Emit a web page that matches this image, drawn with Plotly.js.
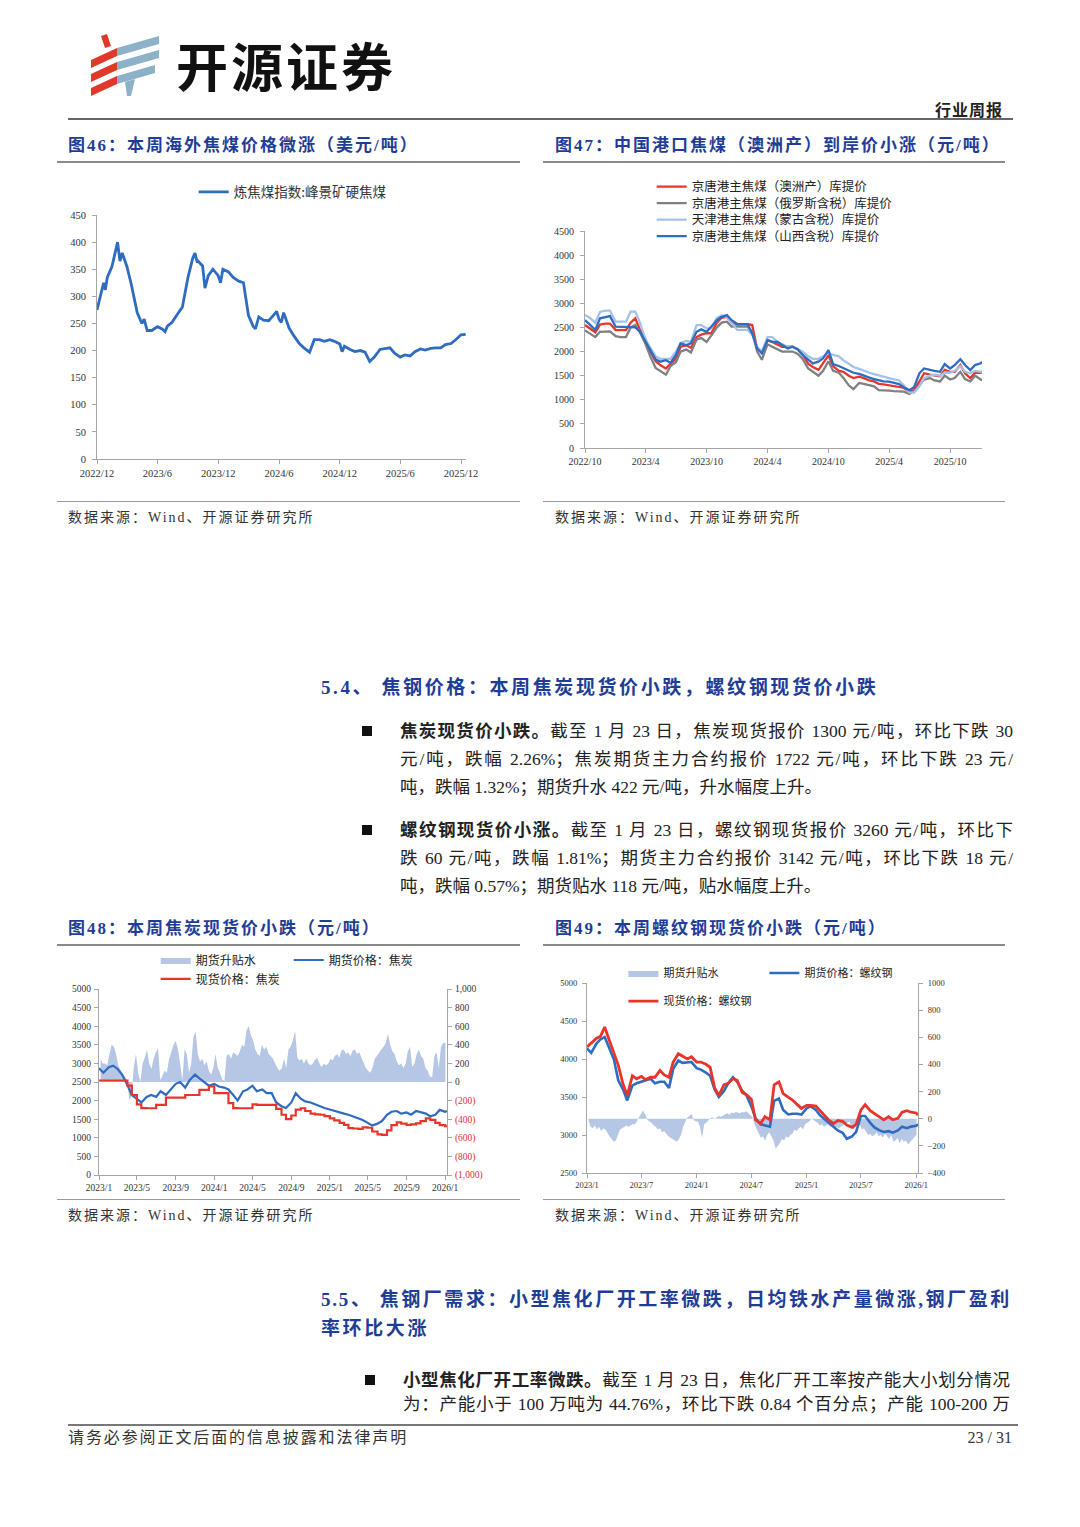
<!DOCTYPE html>
<html><head><meta charset="utf-8">
<script src="https://cdn.plot.ly/plotly-3.0.1.min.js"></script>
<style>
html,body{margin:0;padding:0;background:#fff;}
#page{position:relative;width:1080px;height:1527px;overflow:hidden;background:#fff;font-family:"Liberation Serif","Noto Sans CJK SC",serif;color:#222;}
.abs{position:absolute;white-space:nowrap;}
.rule{position:absolute;background:#8a8a8a;}
.figt{position:absolute;white-space:nowrap;font-family:"Liberation Serif","Noto Sans CJK SC",serif;font-weight:700;font-size:17px;color:#1f3d96;letter-spacing:2px;line-height:20px;}
.src{position:absolute;white-space:nowrap;font-size:14px;color:#333;letter-spacing:2px;line-height:18px;}
.ln{position:absolute;left:400px;width:613px;font-size:17.5px;line-height:22px;height:22px;text-align:justify;text-align-last:justify;color:#222;}
.ln.last{text-align:left;text-align-last:left;white-space:nowrap;}
.sq{position:absolute;width:10px;height:10px;background:#111;}
.h2{position:absolute;left:321px;font-weight:700;font-size:19px;letter-spacing:2.6px;color:#1f3d96;line-height:24px;height:24px;}
.chart{position:absolute;}
</style></head>
<body><div id="page">

<svg class="abs" style="left:85px;top:30px" width="80" height="72" viewBox="0 0 80 72">
 <polygon points="16,6 22,4 26,16 20,18" fill="#e0392b"/>
 <polygon points="6,30 32,18 32,26 6,38" fill="#e0392b"/>
 <polygon points="6,44 32,32 32,40 6,52" fill="#e0392b"/>
 <polygon points="6,58 32,46 32,54 6,66" fill="#e0392b"/>
 <polygon points="32,18 74,6 74,14 32,26" fill="#8db1c8"/>
 <polygon points="32,32 74,20 74,28 32,40" fill="#8db1c8"/>
 <polygon points="32,46 70,35 70,43 32,54" fill="#8db1c8"/>
 <polygon points="40,52 50,49 46,66 42,66" fill="#8db1c8"/>
</svg>
<div class="abs" style="left:176px;top:34px;font-family:'Noto Sans CJK SC';font-weight:700;font-size:52px;line-height:62px;letter-spacing:3px;color:#111;">开源证券</div>
<div class="abs" style="left:935px;top:99px;font-family:'Noto Sans CJK SC';font-weight:700;font-size:16px;line-height:20px;letter-spacing:1px;color:#222;">行业周报</div>
<div class="rule" style="left:68px;top:118px;width:945px;height:2px;background:#666;"></div>

<div class="figt" style="left:68px;top:136px;">图46：本周海外焦煤价格微涨（美元/吨）</div>
<div class="figt" style="left:555px;top:136px;">图47：中国港口焦煤（澳洲产）到岸价小涨（元/吨）</div>
<div class="rule" style="left:57px;top:161px;width:463px;height:1.5px;"></div>
<div class="rule" style="left:543px;top:161px;width:462px;height:1.5px;"></div>
<div id="c46" class="chart" style="left:57px;top:163px;width:463px;height:338px;"></div>
<div id="c47" class="chart" style="left:543px;top:163px;width:462px;height:338px;"></div>
<div class="rule" style="left:57px;top:501px;width:463px;height:1px;background:#999;"></div>
<div class="rule" style="left:543px;top:501px;width:462px;height:1px;background:#999;"></div>
<div class="src" style="left:68px;top:509px;">数据来源：Wind、开源证券研究所</div>
<div class="src" style="left:555px;top:509px;">数据来源：Wind、开源证券研究所</div>

<div class="h2" style="top:676px;white-space:nowrap;">5.4、 焦钢价格：本周焦炭现货价小跌，螺纹钢现货价小跌</div>

<div class="sq" style="left:362px;top:726px;"></div>
<div class="ln" style="top:720px;"><b>焦炭现货价小跌。</b>截至 1 月 23 日，焦炭现货报价 1300 元/吨，环比下跌 30</div>
<div class="ln" style="top:748px;">元/吨，跌幅 2.26%；焦炭期货主力合约报价 1722 元/吨，环比下跌 23 元/</div>
<div class="ln last" style="top:776px;">吨，跌幅 1.32%；期货升水 422 元/吨，升水幅度上升。</div>

<div class="sq" style="left:362px;top:825px;"></div>
<div class="ln" style="top:819px;"><b>螺纹钢现货价小涨。</b>截至 1 月 23 日，螺纹钢现货报价 3260 元/吨，环比下</div>
<div class="ln" style="top:847px;">跌 60 元/吨，跌幅 1.81%；期货主力合约报价 3142 元/吨，环比下跌 18 元/</div>
<div class="ln last" style="top:875px;">吨，跌幅 0.57%；期货贴水 118 元/吨，贴水幅度上升。</div>

<div class="figt" style="left:68px;top:919px;">图48：本周焦炭现货价小跌（元/吨）</div>
<div class="figt" style="left:555px;top:919px;">图49：本周螺纹钢现货价小跌（元/吨）</div>
<div class="rule" style="left:57px;top:944px;width:463px;height:1.5px;"></div>
<div class="rule" style="left:543px;top:944px;width:462px;height:1.5px;"></div>
<div id="c48" class="chart" style="left:57px;top:946px;width:463px;height:253px;"></div>
<div id="c49" class="chart" style="left:543px;top:946px;width:462px;height:253px;"></div>
<div class="rule" style="left:57px;top:1199px;width:463px;height:1px;background:#999;"></div>
<div class="rule" style="left:543px;top:1199px;width:462px;height:1px;background:#999;"></div>
<div class="src" style="left:68px;top:1207px;">数据来源：Wind、开源证券研究所</div>
<div class="src" style="left:555px;top:1207px;">数据来源：Wind、开源证券研究所</div>

<div class="h2" style="top:1288px;width:690px;letter-spacing:1.8px;text-align:justify;text-align-last:justify;">5.5、 焦钢厂需求：小型焦化厂开工率微跌，日均铁水产量微涨,钢厂盈利</div>
<div class="h2" style="top:1317px;white-space:nowrap;">率环比大涨</div>

<div class="sq" style="left:365px;top:1375px;"></div>
<div class="ln" style="left:403px;width:607px;top:1369px;"><b>小型焦化厂开工率微跌。</b>截至 1 月 23 日，焦化厂开工率按产能大小划分情况</div>
<div class="ln" style="left:403px;width:607px;top:1393px;">为：产能小于 100 万吨为 44.76%，环比下跌 0.84 个百分点；产能 100-200 万</div>

<div class="rule" style="left:68px;top:1424px;width:950px;height:2px;background:#777;"></div>
<div class="abs" style="left:68px;top:1429px;font-size:16px;line-height:18px;letter-spacing:1.9px;color:#333;">请务必参阅正文后面的信息披露和法律声明</div>
<div class="abs" style="right:68px;top:1429px;font-size:16px;line-height:18px;color:#333;">23 / 31</div>
</div>

<script>
// ---------- Figure 46 data ----------
const x46 = ['2022-12-01','2022-12-15','2022-12-21','2022-12-26','2023-01-01','2023-01-15','2023-02-01','2023-02-08','2023-02-15','2023-03-01','2023-03-15','2023-04-01','2023-04-15','2023-04-22','2023-05-01','2023-05-15','2023-06-01','2023-06-15','2023-06-24','2023-07-01','2023-07-15','2023-08-01','2023-08-15','2023-09-01','2023-09-15','2023-09-22','2023-09-29','2023-10-01','2023-10-15','2023-10-22','2023-11-01','2023-11-15','2023-12-01','2023-12-08','2023-12-15','2024-01-01','2024-01-15','2024-02-01','2024-02-15','2024-03-01','2024-03-15','2024-03-22','2024-04-01','2024-04-15','2024-05-01','2024-05-15','2024-05-25','2024-06-01','2024-06-08','2024-06-15','2024-07-01','2024-07-15','2024-08-01','2024-08-15','2024-09-01','2024-09-15','2024-10-01','2024-10-15','2024-11-01','2024-11-15','2024-12-01','2024-12-08','2024-12-15','2025-01-01','2025-01-15','2025-02-01','2025-02-15','2025-03-01','2025-03-15','2025-04-01','2025-04-15','2025-05-01','2025-05-15','2025-06-01','2025-06-15','2025-07-01','2025-07-15','2025-08-01','2025-08-15','2025-09-01','2025-09-15','2025-10-01','2025-10-15','2025-11-01','2025-11-15','2025-12-01','2025-12-15'];
const coking46 = [275,310,325,312,335,355,400,365,380,355,320,270,250,258,237,237,244,240,235,245,252,268,280,335,370,380,362,365,356,315,338,350,338,325,350,345,335,328,325,265,245,240,262,256,255,265,272,258,252,270,242,228,213,205,197,220,220,217,220,217,212,198,208,202,198,200,197,180,188,202,204,205,195,188,192,190,198,203,201,204,205,205,211,213,220,229,230];
const name46 = '炼焦煤指数:峰景矿硬焦煤';

// ---------- Figure 47 data ----------
const x47 = ['2022-10-01','2022-10-15','2022-11-01','2022-11-15','2022-12-01','2022-12-15',
'2023-01-01','2023-01-15','2023-02-01','2023-02-15','2023-03-01','2023-03-15','2023-04-01','2023-04-15','2023-05-01','2023-05-15','2023-06-01','2023-06-15','2023-07-01','2023-07-15','2023-08-01','2023-08-15','2023-09-01','2023-09-15','2023-10-01','2023-10-15','2023-11-01','2023-11-15','2023-12-01','2023-12-15',
'2024-01-01','2024-01-15','2024-02-01','2024-02-15','2024-03-01','2024-03-15','2024-04-01','2024-04-15','2024-05-01','2024-05-15','2024-06-01','2024-06-15','2024-07-01','2024-07-15','2024-08-01','2024-08-15','2024-09-01','2024-09-15','2024-10-01','2024-10-15','2024-11-01','2024-11-15','2024-12-01','2024-12-15',
'2025-01-01','2025-01-15','2025-02-01','2025-02-15','2025-03-01','2025-03-15','2025-04-01','2025-04-15','2025-05-01','2025-05-15','2025-06-01','2025-06-15','2025-07-01','2025-07-15','2025-08-01','2025-08-15','2025-09-01','2025-09-15','2025-10-01','2025-10-15','2025-11-01','2025-11-15','2025-12-01','2025-12-15',
'2026-01-01','2026-01-05'];
const aus47 = [2550,2480,2400,2560,2580,2580,
2445,2445,2445,2600,2690,2450,2250,2000,1800,1720,1650,1750,1850,2100,2130,2080,2300,2350,2380,2380,2600,2700,2720,2600,
2570,2570,2570,2550,2050,2000,2230,2200,2150,2100,2100,2100,2050,1950,1750,1680,1620,1750,1920,1700,1600,1580,1500,1450,
1480,1450,1400,1380,1330,1320,1300,1290,1280,1250,1160,1200,1380,1550,1520,1500,1490,1620,1580,1580,1720,1550,1450,1560,
1560,1580];
const rus47 = [2440,2380,2300,2410,2420,2420,
2320,2300,2300,2500,2550,2400,2150,1900,1660,1590,1520,1700,1780,2000,2040,1980,2250,2280,2200,2330,2500,2600,2620,2520,
2520,2520,2520,2400,2000,1830,2150,2100,2050,2000,2000,2000,1950,1850,1650,1580,1500,1600,1800,1600,1560,1450,1300,1220,
1350,1330,1310,1280,1200,1200,1190,1180,1180,1170,1120,1180,1300,1420,1450,1400,1380,1500,1420,1450,1580,1430,1380,1500,
1420,1400];
const mng47 = [2760,2700,2600,2820,2850,2850,
2620,2620,2620,2830,2830,2600,2250,2080,1900,1850,1850,1850,2000,2180,2220,2200,2550,2550,2480,2480,2700,2750,2720,2600,
2450,2450,2450,2350,2100,2000,2300,2300,2200,2150,2100,2100,2050,2000,1900,1850,1850,1900,1960,1930,1900,1820,1750,1680,
1640,1600,1560,1530,1500,1480,1450,1430,1400,1300,1150,1150,1280,1450,1500,1520,1500,1560,1560,1600,1700,1580,1550,1600,
1580,1600];
const shx47 = [2650,2550,2450,2690,2720,2735,
2515,2515,2515,2515,2500,2410,2200,2050,1840,1790,1820,1770,1930,2170,2135,2170,2410,2460,2410,2515,2650,2720,2755,2650,
2570,2570,2570,2375,2065,1960,2240,2200,2200,2135,2065,2100,2045,1930,1840,1755,1790,1860,2030,1740,1700,1650,1600,1560,
1535,1495,1460,1430,1410,1380,1375,1355,1325,1260,1200,1260,1550,1650,1615,1600,1580,1740,1650,1720,1840,1720,1615,1720,
1755,1790];
const names47 = ['京唐港主焦煤（澳洲产）库提价','京唐港主焦煤（俄罗斯含税）库提价','天津港主焦煤（蒙古含税）库提价','京唐港主焦煤（山西含税）库提价'];

// ---------- Figures 48 / 49 shared dates ----------
const x4849 = ['2023-01-01','2023-01-15','2023-02-01','2023-02-15','2023-03-01','2023-03-15','2023-04-01','2023-04-15','2023-05-01','2023-05-15','2023-06-01','2023-06-15','2023-07-01','2023-07-15','2023-08-01','2023-08-15','2023-09-01','2023-09-15','2023-10-01','2023-10-15','2023-11-01','2023-11-15','2023-12-01','2023-12-15',
'2024-01-01','2024-01-15','2024-02-01','2024-02-15','2024-03-01','2024-03-15','2024-04-01','2024-04-15','2024-05-01','2024-05-15','2024-06-01','2024-06-15','2024-07-01','2024-07-15','2024-08-01','2024-08-15','2024-09-01','2024-09-15','2024-10-01','2024-10-15','2024-11-01','2024-11-15','2024-12-01','2024-12-15',
'2025-01-01','2025-01-15','2025-02-01','2025-02-15','2025-03-01','2025-03-15','2025-04-01','2025-04-15','2025-05-01','2025-05-15','2025-06-01','2025-06-15','2025-07-01','2025-07-15','2025-08-01','2025-08-15','2025-09-01','2025-09-15','2025-10-01','2025-10-15','2025-11-01','2025-11-15','2025-12-01','2025-12-15',
'2026-01-01','2026-01-07'];
const basisStart = '2023-01-06';      // weekly basis series start
const basisStepDays = 7;

// ---------- Figure 48 data ----------
const fut48 = [2870,2750,2900,2940,2850,2700,2420,2150,2050,1950,2100,2150,2100,2250,2150,2300,2450,2500,2350,2550,2700,2600,2500,2400,
2450,2380,2350,2300,2150,2000,2250,2300,2400,2250,2300,2200,2200,1950,1850,1800,1950,2200,2050,1980,1950,1900,1850,1800,
1760,1720,1680,1650,1620,1580,1530,1480,1400,1330,1380,1450,1620,1700,1720,1650,1680,1620,1720,1680,1650,1580,1620,1750,
1700,1722];
const spot48 = [2540,2540,2540,2540,2540,2540,2400,2150,1900,1800,1795,1795,1885,1885,2080,2080,2080,2080,2150,2150,2150,2290,2290,2380,
2200,2200,2200,1930,1800,1795,1795,1795,1900,1885,1885,1885,1885,1780,1620,1500,1600,1760,1795,1720,1650,1630,1620,1580,
1520,1470,1400,1345,1260,1250,1240,1280,1270,1170,1090,1080,1200,1340,1415,1380,1350,1360,1390,1450,1520,1480,1400,1340,
1310,1300];
const basis48 = [250,200,200,180,300,400,380,300,180,120,
80,60,20,-200,-150,150,300,100,0,200,
260,350,200,140,250,320,360,20,80,120,
100,250,320,400,440,350,200,20,350,300,
100,200,480,540,300,220,250,180,220,120,
80,150,300,150,100,30,10,280,300,250,
320,300,280,330,400,380,550,600,500,450,
350,300,280,400,350,380,300,280,250,200,
150,120,150,250,150,350,380,450,550,260,
230,250,200,250,200,180,200,240,260,200,
160,200,180,200,250,230,280,300,260,340,
350,300,320,280,340,350,300,320,260,220,
150,120,100,150,250,280,320,350,380,420,
520,400,330,300,220,180,200,150,200,330,
380,160,200,300,350,280,250,150,120,60,
50,280,320,150,380,420,422];
const names48 = ['期货升贴水','期货价格：焦炭','现货价格：焦炭'];
const tickVals48 = [-1000,-800,-600,-400,-200,0,200,400,600,800,1000];
const tickText48 = ['(1,000)','(800)','(600)','(400)','(200)','0','200','400','600','800','1,000'];

// ---------- Figure 49 data ----------
const fut49 = [4140,4080,4200,4260,4290,4160,3990,3720,3600,3455,3650,3680,3700,3720,3740,3680,3700,3700,3620,3870,3980,3950,3960,3960,
3880,3860,3820,3780,3600,3500,3580,3680,3760,3700,3580,3520,3380,3220,3140,3130,3110,3450,3480,3330,3270,3280,3280,3270,
3350,3380,3330,3260,3210,3170,3100,3060,3030,2950,2980,3040,3250,3250,3160,3100,3060,3040,3050,3030,3060,3110,3090,3110,
3120,3142];
const spot49 = [4160,4210,4270,4300,4420,4260,4060,3920,3670,3520,3780,3740,3770,3730,3760,3760,3850,3790,3760,3960,4070,4040,4000,4030,
3960,3960,3930,3890,3620,3520,3660,3680,3740,3720,3560,3530,3470,3200,3150,3240,3200,3660,3700,3545,3500,3460,3400,3350,
3390,3390,3380,3320,3250,3200,3150,3190,3180,3130,3100,3140,3330,3400,3320,3280,3240,3200,3240,3200,3220,3300,3320,3300,
3290,3260];
const basis49 = [-10,-60,-70,-50,-80,-60,-90,-70,-80,-110,
-130,-150,-170,-160,-120,-80,-70,-60,-50,-60,
-50,-40,-40,-20,10,40,60,30,-10,-20,
-30,-50,-60,-80,-70,-100,-90,-110,-130,-140,
-150,-160,-170,-150,-120,-60,-20,10,20,35,
-10,-20,-20,-60,-140,-40,-30,-10,5,10,
-5,10,20,15,25,30,40,30,45,40,
50,45,40,50,45,55,40,20,10,-40,
-80,-110,-140,-130,-160,-120,-100,-130,-160,-220,
-200,-180,-150,-160,-130,-140,-120,-110,-80,-90,
-70,-60,-80,-40,-30,-20,0,-10,-20,-30,
-50,-40,-60,-50,-40,-60,-50,-80,-60,-70,
-60,-50,-40,-30,-20,-60,-80,-60,-30,-40,
-80,-70,-100,-120,-110,-130,-120,-100,-130,-120,
-140,-110,-130,-150,-120,-170,-160,-140,-180,-150,
-170,-160,-190,-170,-150,-130,-118];
const names49 = ['期货升贴水','期货价格：螺纹钢','现货价格：螺纹钢'];

// ---------- styling ----------
const C = {blue:'#2e6cc0', red:'#e8352b', gray:'#808080', lblue:'#a3c2ea', area:'#b6c7e5'};
const serif = 'Liberation Serif, Times New Roman, serif';
const cjk = 'Noto Sans CJK SC, sans-serif';
const cfg = {staticPlot:true, displayModeBar:false};
function ax(size, extra){
  return Object.assign({showline:true, linecolor:'#a6a6a6', linewidth:1, ticks:'outside', ticklen:4, tickcolor:'#a6a6a6',
    showgrid:false, zeroline:false, tickfont:{family:serif, size:size, color:'#333'}, fixedrange:true}, extra);
}
const baseLayout = {paper_bgcolor:'rgba(0,0,0,0)', plot_bgcolor:'rgba(0,0,0,0)', hovermode:false};
const dayMs = 86400000;
const noBg = 'rgba(0,0,0,0)';

// Figure 46
Plotly.newPlot('c46', [{x:x46, y:coking46, type:'scatter', mode:'lines', name:name46, line:{color:C.blue, width:2.8}}],
 Object.assign({}, baseLayout, {width:463, height:338, margin:{l:40, r:54, t:52, b:42, autoexpand:false},
  showlegend:true,
  legend:{orientation:'h', x:0.262, xanchor:'left', y:1.094, yanchor:'middle', bgcolor:noBg, font:{family:cjk, size:13.5, color:'#333'}},
  xaxis:ax(10.5, {type:'date', range:['2022-12-01','2025-12-16'], tick0:'2022-12-01', dtick:'M6', tickformat:'%Y/%-m'}),
  yaxis:ax(10.5, {range:[0,450], tick0:0, dtick:50, ticklabelstandoff:4})
 }), cfg);

// Figure 47 (one legend per row so rows sit ~16px apart as in the reference)
const cols47 = [C.red, C.gray, C.lblue, C.blue];
const ser47 = [aus47, rus47, mng47, shx47];
const legIds47 = ['legend','legend2','legend3','legend4'];
const legY47 = [1.203, 1.127, 1.051, 0.975];
const lay47 = Object.assign({}, baseLayout, {width:462, height:338, margin:{l:42, r:23, t:68, b:53, autoexpand:false},
  showlegend:true,
  xaxis:ax(10, {type:'date', range:['2022-10-01','2026-01-05'], tick0:'2022-10-01', dtick:'M6', tickformat:'%Y/%-m'}),
  yaxis:ax(10, {range:[0,4500], tick0:0, dtick:500, ticklabelstandoff:4})
});
legIds47.forEach((id,i)=>{ lay47[id] = {orientation:'v', x:0.168, xanchor:'left', y:legY47[i], yanchor:'middle', bgcolor:noBg, font:{family:cjk, size:12.5, color:'#222'}}; });
Plotly.newPlot('c47', ser47.map((s,i)=>({x:x47, y:s, type:'scatter', mode:'lines', name:names47[i], legend:legIds47[i], line:{color:cols47[i], width:2.3}})), lay47, cfg);

// Figure 48
const ticktext48 = tickText48.map((t,i)=> tickVals48[i] < 0 ? '<span style="color:#e03030">'+t+'</span>' : t);
Plotly.newPlot('c48', [
  {x0:basisStart, dx:basisStepDays*dayMs, y:basis48, type:'scatter', mode:'lines', name:names48[0], fill:'tozeroy', fillcolor:C.area, line:{width:0, color:C.area}, yaxis:'y', legend:'legend'},
  {x:x4849, y:fut48, type:'scatter', mode:'lines', name:names48[1], line:{color:C.blue, width:2.2}, yaxis:'y2', legend:'legend'},
  {x:x4849, y:spot48, type:'scatter', mode:'lines', name:names48[2], line:{color:C.red, width:2.2, shape:'hv'}, yaxis:'y2', legend:'legend2'}
 ], Object.assign({}, baseLayout, {width:463, height:253, margin:{l:42, r:73, t:43, b:24, autoexpand:false},
  showlegend:true,
  legend:{orientation:'h', x:0.163, xanchor:'left', y:1.156, yanchor:'middle', entrywidth:88, bgcolor:noBg, font:{family:cjk, size:12, color:'#222'}},
  legend2:{orientation:'h', x:0.163, xanchor:'left', y:1.054, yanchor:'middle', bgcolor:noBg, font:{family:cjk, size:12, color:'#222'}},
  xaxis:ax(9.5, {type:'date', range:['2023-01-01','2026-01-07'], tick0:'2023-01-01', dtick:'M4', tickformat:'%Y/%-m'}),
  yaxis:ax(9.5, {side:'right', range:[-1000,1000], tickvals:tickVals48, ticktext:ticktext48, ticklabelstandoff:1}),
  yaxis2:ax(9.5, {overlaying:'y', side:'left', range:[0,5000], tick0:0, dtick:500, ticklabelstandoff:1})
 }), cfg);

// Figure 49
Plotly.newPlot('c49', [
  {x0:basisStart, dx:basisStepDays*dayMs, y:basis49, type:'scatter', mode:'lines', name:names49[0], fill:'tozeroy', fillcolor:C.area, line:{width:0, color:C.area}, yaxis:'y', legend:'legend'},
  {x:x4849, y:fut49, type:'scatter', mode:'lines', name:names49[1], line:{color:C.blue, width:2.6}, yaxis:'y2', legend:'legend'},
  {x:x4849, y:spot49, type:'scatter', mode:'lines', name:names49[2], line:{color:C.red, width:2.8}, yaxis:'y2', legend:'legend2'}
 ], Object.assign({}, baseLayout, {width:462, height:253, margin:{l:44, r:87, t:37, b:26, autoexpand:false},
  showlegend:true,
  legend:{orientation:'h', x:0.11, xanchor:'left', y:1.053, yanchor:'middle', entrywidth:96, bgcolor:noBg, font:{family:cjk, size:11, color:'#222'}},
  legend2:{orientation:'h', x:0.11, xanchor:'left', y:0.905, yanchor:'middle', bgcolor:noBg, font:{family:cjk, size:11, color:'#222'}},
  xaxis:ax(8.5, {type:'date', range:['2023-01-01','2026-01-07'], tick0:'2023-01-01', dtick:'M6', tickformat:'%Y/%-m'}),
  yaxis:ax(8.5, {side:'right', range:[-400,1000], tick0:-400, dtick:200, ticklabelstandoff:3}),
  yaxis2:ax(8.5, {overlaying:'y', side:'left', range:[2500,5000], tick0:2500, dtick:500, ticklabelstandoff:3})
 }), cfg);
</script>
</body></html>
